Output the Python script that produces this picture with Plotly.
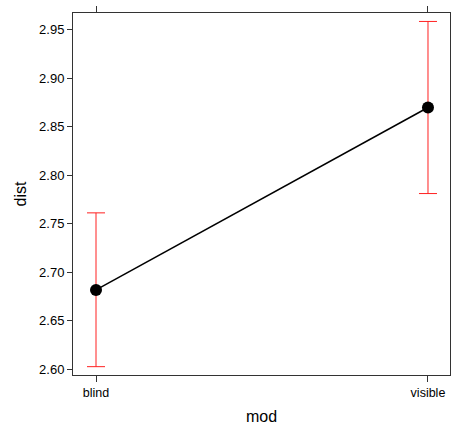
import plotly.graph_objects as go

categories = ["blind", "visible"]
dist_fit = [2.6818, 2.8698]
dist_lower = [2.6027, 2.7811]
dist_upper = [2.7612, 2.9585]
y_ticks = [2.60, 2.65, 2.70, 2.75, 2.80, 2.85, 2.90, 2.95]

xpos = list(range(len(categories)))
err_plus = [u - m for u, m in zip(dist_upper, dist_fit)]
err_minus = [m - l for m, l in zip(dist_fit, dist_lower)]

fig = go.Figure()
fig.add_trace(go.Scatter(
    x=xpos, y=dist_fit, mode="lines+markers",
    line=dict(color="black", width=1.5),
    marker=dict(color="black", size=12),
    error_y=dict(type="data", symmetric=False, array=err_plus, arrayminus=err_minus,
                 color="#FF2020", thickness=1, width=9),
    showlegend=False,
))

font = "Liberation Sans, Arial, sans-serif"
fig.update_layout(
    width=451, height=425,
    margin=dict(l=73, r=1, t=13, b=50),
    paper_bgcolor="white", plot_bgcolor="white",
    font=dict(family=font, color="black", size=13),
    xaxis=dict(
        range=[-0.0693, 1.0663], tickvals=xpos, ticktext=categories,
        showgrid=False, zeroline=False, showline=True, linecolor="#333333", linewidth=1,
        mirror="ticks", ticks="outside", ticklen=6, tickcolor="#333333",
        tickfont=dict(size=12.5), automargin=False,
        title=dict(text="mod", font=dict(size=16), standoff=14),
    ),
    yaxis=dict(
        range=[2.5941, 2.9672], tickvals=y_ticks, ticktext=[f"{v:.2f}" for v in y_ticks],
        showgrid=False, zeroline=False, showline=True, linecolor="#333333", linewidth=1,
        mirror="ticks", ticks="outside", ticklen=5, tickcolor="#333333",
        tickfont=dict(size=13), automargin=False,
        title=dict(text="dist", font=dict(size=16), standoff=8),
    ),
)

fig.write_html("out.html")
